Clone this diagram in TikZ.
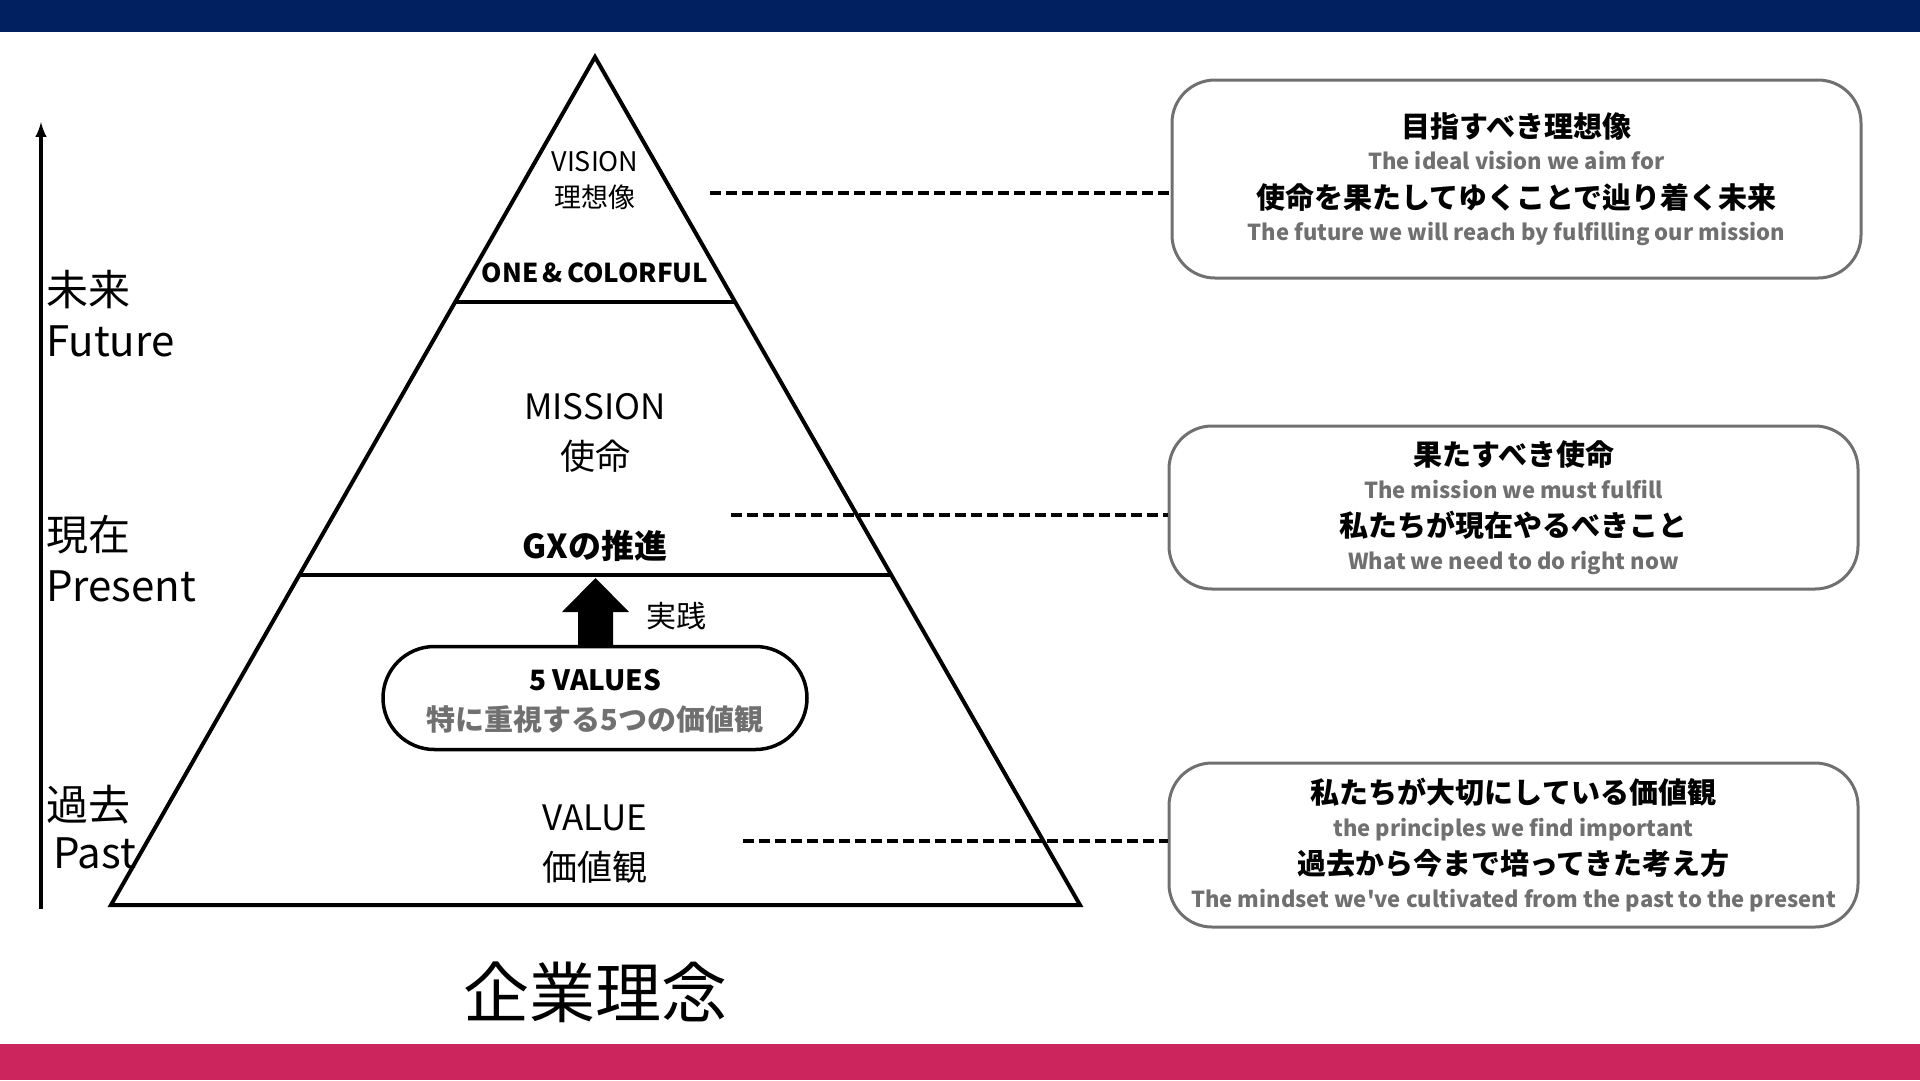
\documentclass[tikz,border=0pt]{standalone}
\usepackage{fontspec}
\setmainfont{Noto Sans CJK JP}[Ligatures=TeXOff]
\usetikzlibrary{positioning}
\usetikzlibrary{shapes.misc, arrows}

\definecolor{navybar}{RGB}{0,32,96}
\definecolor{rosebar}{RGB}{204,36,92}
\definecolor{softgray}{RGB}{112,112,112}
\definecolor{edgegray}{RGB}{112,112,112}

\newcommand{\pxsize}[2]{\fontsize{#1}{#2}\selectfont}

\tikzset{
    layer/.style={align=center, inner sep=0pt},
    infobox/.style={draw=edgegray, line width=3, rounded corners=43, minimum width=689,
        align=center, inner sep=0pt, font=\pxsize{29}{35.5}\bfseries},
    dashline/.style={line width=4, dash pattern=on 11 off 5}
}
\newcommand{\engline}[1]{{\color{softgray}\pxsize{22}{35.5}\bfseries #1}}
\newcommand{\jpline}[1]{\raisebox{-3pt}{#1}}

\begin{document}
\begin{tikzpicture}[x=1pt, y=-1pt]
    \useasboundingbox (0,0) rectangle (1920,1080);
    \fill[navybar] (0,0) rectangle (1920,32);
    \fill[rosebar] (0,1044) rectangle (1920,1080);

    % time axis
    \coordinate (tbot) at (41,909);
    \coordinate (ttop) at (41,122);
    \draw[-latex, line width=4] (tbot) -- (ttop);
    \node[anchor=west, align=left, inner sep=0pt, font=\pxsize{42}{51}] (future) at (46,314) {未来\\Future};
    \node[anchor=west, align=left, inner sep=0pt, font=\pxsize{42}{51}] (present) at (46,559) {現在\\Present};
    \node[anchor=west, align=left, inner sep=0pt, font=\pxsize{42}{48}] (past) at (46,827) {過去\\\,Past};

    % pyramid
    \coordinate (apex) at (595,57);
    \coordinate (baseL) at (111,905);
    \coordinate (baseR) at (1080,905);
    \draw[line width=4, line join=miter] (apex) -- (baseR) -- (baseL) -- cycle;
    \draw[line width=4] (455,302) -- (735,302);
    \draw[line width=4] (299,575) -- (891,575);

    \node[layer, font=\pxsize{27}{36}] (vision) at (595,181) {VISION\\理想像};
    \node[layer, font=\pxsize{26}{30}\bfseries] (onecolor) at (595,273) {ONE\,\&\,COLORFUL};
    \node[layer, font=\pxsize{35}{50}] (mission) at (595,433) {MISSION\\使命};
    \node[layer, font=\pxsize{33}{36}\bfseries] (gx) at (595,546) {GXの推進};
    \node[layer, font=\pxsize{35}{50}] (value) at (595,844) {VALUE\\価値観};

    % five values
    \node[draw, rounded rectangle, line width=3.5, minimum width=424, minimum height=103,
        align=center, inner sep=0pt] (fivev) at (595,698) {};
    \node[layer, font=\pxsize{28}{32}\bfseries] (fivevt) at (595,680) {5 VALUES};
    \node[layer, font=\pxsize{29}{32}\bfseries, text=softgray] (fivevs) at (595,719) {特に重視する5つの価値観};
    \fill (578,647) -- (578,612) -- (562,612) -- (595.5,578) -- (629,612) -- (613,612) -- (613,647) -- cycle;
    \node[layer, font=\pxsize{30}{34}] (jissen) at (676,616) {実践};

    % explanation boxes
    \node[infobox, minimum height=198] (vbox) at (1516.5,179)
        {\jpline{目指すべき理想像}\\\engline{The ideal vision we aim for}\\\jpline{使命を果たしてゆくことで辿り着く未来}\\\engline{The future we will reach by fulfilling our mission}};
    \node[infobox, minimum height=163] (mbox) at (1513.5,507.5)
        {\jpline{果たすべき使命}\\\engline{The mission we must fulfill}\\\jpline{私たちが現在やるべきこと}\\\engline{What we need to do right now}};
    \node[infobox, minimum height=164] (valbox) at (1513.5,845)
        {\jpline{私たちが大切にしている価値観}\\\engline{the principles we find important}\\\jpline{過去から今まで培ってきた考え方}\\\engline{The mindset we've cultivated from the past to the present}};

    \coordinate (vdash) at (710,193);
    \coordinate (mdash) at (731,515);
    \coordinate (valdash) at (743,841);
    \draw[dashline] (vdash) -- (vdash -| vbox.west);
    \draw[dashline] (mdash) -- (mdash -| mbox.west);
    \draw[dashline] (valdash) -- (valdash -| valbox.west);

    \node[layer, font=\pxsize{66}{70}] (title) at (595,992) {企業理念};
\end{tikzpicture}
\end{document}
